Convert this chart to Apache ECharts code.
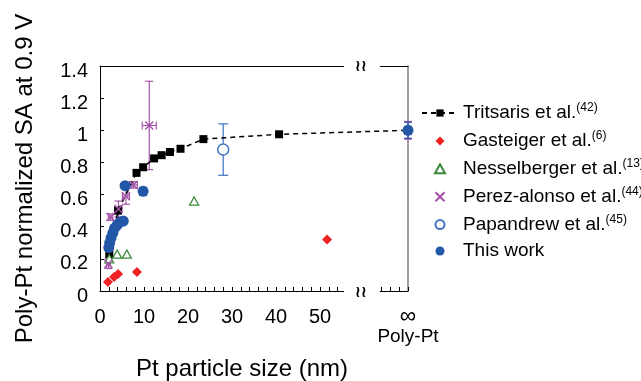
<!DOCTYPE html>
<html><head><meta charset="utf-8">
<script src="https://cdn.jsdelivr.net/npm/echarts@6/dist/echarts.min.js"></script>
<style>html,body{margin:0;padding:0;background:#fff}#c{width:641px;height:381px}</style>
</head><body><div id="c"></div>
<script>
// ---- data ----
const INF = 70; // axis position used for "∞ / Poly-Pt"
const yTicks = [0, 0.2, 0.4, 0.6, 0.8, 1, 1.2, 1.4];
const xTickLabels = {0:'0',10:'10',20:'20',30:'30',40:'40',50:'50',60:'',70:'{inf|∞}\n{pp|Poly-Pt}'};

const tritsarisX = [2.1, 4.1, 8.3, 9.8, 12.3, 14.0, 15.9, 18.3, 23.5, 40.7, 70];
const tritsarisY = [0.23, 0.50, 0.735, 0.77, 0.825, 0.845, 0.865, 0.885, 0.945, 0.975, 1.0];

const gasteigerX = [1.8, 3.2, 4.1, 8.4, 51.6];
const gasteigerY = [0.056, 0.087, 0.106, 0.118, 0.32];

const nesselbergerX = [2.1, 3.9, 6.1, 21.4];
const nesselbergerY = [0.20, 0.23, 0.23, 0.56];

const perezX    = [1.9, 2.4, 4.2, 5.9, 7.6, 11.2, 70];
const perezY    = [0.17, 0.46, 0.51, 0.59, 0.66, 1.03, 1.0];
const perezXErr = [0.4, 0.5, 0.8, 0.8, 0.9, 1.6, 0];
const perezYErr = [0.03, 0.02, 0.05, 0.05, 0.02, 0.275, 0.055];

const papandrewX = [28.0];
const papandrewY = [0.88];
const papandrewYErr = [0.16];

const thisWorkX = [2.0, 2.2, 2.5, 2.9, 3.3, 3.9, 4.6, 5.3, 5.7, 9.8, 70];
const thisWorkY = [0.27, 0.30, 0.33, 0.36, 0.39, 0.41, 0.43, 0.435, 0.655, 0.62, 1.0];
const thisWorkYErr = [0, 0, 0, 0, 0, 0, 0, 0, 0, 0.025, 0.05];

const seriesNames = ['Tritsaris et al.', 'Gasteiger et al.', 'Nesselberger et al.', 'Perez-alonso et al.', 'Papandrew et al.', 'This work'];
const seriesRefs  = ['(42)', '(6)', '(13)', '(44)', '(45)', ''];

// ---- build ----
const FONT = '"Liberation Sans", Arial, sans-serif';
const C = {tri:'#000000', gas:'#ee2222', nes:'#3a8a3a', per:'#a455a8', pap:'#3d72c4', tw:'#2357a8'};
const SYM_DIAMOND = 'path://M5,0L10,5L5,10L0,5Z';
const SYM_TRIANGLE = 'path://M5,0L10,9L0,9Z';
const SYM_X = 'path://M0,0L10,10M10,0L0,10';
const zip = (xs, ys) => xs.map((x, i) => [x, ys[i]]);
const zipErr = (xs, ys, xe, ye) => xs.map((x, i) => [x, ys[i], xe ? xe[i] : 0, ye ? ye[i] : 0]);

function errBars(color, capHalf) {
  return function (params, api) {
    const x = api.value(0), y = api.value(1), xe = api.value(2), ye = api.value(3);
    const st = {stroke: color, lineWidth: 1.2};
    const ch = [];
    if (ye > 0) {
      const t = api.coord([x, y + ye]), b = api.coord([x, y - ye]);
      ch.push({type:'line', shape:{x1:t[0], y1:t[1], x2:b[0], y2:b[1]}, style:st});
      ch.push({type:'line', shape:{x1:t[0]-capHalf, y1:t[1], x2:t[0]+capHalf, y2:t[1]}, style:st});
      ch.push({type:'line', shape:{x1:b[0]-capHalf, y1:b[1], x2:b[0]+capHalf, y2:b[1]}, style:st});
    }
    if (xe > 0) {
      const l = api.coord([x - xe, y]), r = api.coord([x + xe, y]);
      ch.push({type:'line', shape:{x1:l[0], y1:l[1], x2:r[0], y2:r[1]}, style:st});
      ch.push({type:'line', shape:{x1:l[0], y1:l[1]-capHalf, x2:l[0], y2:l[1]+capHalf}, style:st});
      ch.push({type:'line', shape:{x1:r[0], y1:r[1]-capHalf, x2:r[0], y2:r[1]+capHalf}, style:st});
    }
    return {type:'group', children: ch};
  };
}

const chart = echarts.init(document.getElementById('c'), null, {renderer:'canvas'});
const refMap = {}; seriesNames.forEach((n, i) => refMap[n] = seriesRefs[i]);

chart.setOption({
  animation: false,
  backgroundColor: '#fff',
  grid: {left: 100, right: 233, top: 66, bottom: 90, outerBoundsMode: 'none', containLabel: false},
  legend: {
    data: seriesNames,
    orient: 'vertical',
    left: 416, top: 97,
    itemWidth: 36, itemHeight: 9, itemGap: 7.4,
    symbolKeepAspect: true,
    textStyle: {
      fontFamily: FONT, fontSize: 19, color: '#000',
      rich: {
        n: {fontFamily: FONT, fontSize: 19, lineHeight: 22, color: '#000'},
        s: {fontFamily: FONT, fontSize: 12, lineHeight: 14, verticalAlign: 'top', color: '#000'}
      }
    },
    formatter: name => '{n|' + name + '}' + (refMap[name] ? '{s|' + refMap[name] + '}' : '')
  },
  xAxis: [{
    type: 'value', min: 0, max: INF, interval: 10,
    name: 'Pt particle size (nm)', nameLocation: 'middle', nameGap: 66,
    nameTextStyle: {fontFamily: FONT, fontSize: 24, color: '#000', padding: [0, 24, 0, 0]},
    axisLine: {show: true, lineStyle: {color: '#000', width: 1}},
    axisTick: {show: true, inside: true, length: 4, lineStyle: {color: '#000'}},
    minorTick: {show: true, splitNumber: 5, length: 4, lineStyle: {color: '#000'}},
    splitLine: {show: false},
    axisLabel: {
      fontFamily: FONT, fontSize: 20, lineHeight: 20, color: '#000', margin: 16,
      formatter: v => (xTickLabels[v] !== undefined ? xTickLabels[v] : ''),
      rich: {
        inf: {fontFamily: FONT, fontSize: 23, lineHeight: 20, color: '#000'},
        pp: {fontFamily: FONT, fontSize: 19, lineHeight: 19, color: '#000'}
      }
    }
  }, {
    type: 'value', min: 0, max: INF, position: 'top',
    axisLine: {show: true, onZero: false, lineStyle: {color: '#000', width: 1}},
    axisTick: {show: false}, axisLabel: {show: false}, splitLine: {show: false}
  }],
  yAxis: [{
    type: 'value', min: 0, max: 1.4, interval: 0.2,
    name: 'Poly-Pt normalized SA at 0.9 V', nameLocation: 'middle', nameGap: 63,
    nameTextStyle: {fontFamily: FONT, fontSize: 24, color: '#000'},
    axisLine: {show: true, lineStyle: {color: '#000', width: 1}},
    axisTick: {show: true, inside: true, length: 4, lineStyle: {color: '#000'}},
    splitLine: {show: false},
    axisLabel: {fontFamily: FONT, fontSize: 20, color: '#000', margin: 12,
      verticalAlign: 'top', lineHeight: 10,
      formatter: v => String(yTicks.find(t => Math.abs(t - v) < 1e-9) ?? v)}
  }, {
    type: 'value', min: 0, max: 1.4, position: 'right',
    axisLine: {show: true, onZero: false, lineStyle: {color: '#808080', width: 1.5}},
    axisTick: {show: false}, axisLabel: {show: false}, splitLine: {show: false}
  }],
  series: [
    {name: 'Tritsaris et al.', type: 'line', data: zip(tritsarisX, tritsarisY),
      symbol: 'rect', symbolSize: 8, z: 3,
      lineStyle: {color: C.tri, width: 1.5, type: [5, 4]}, itemStyle: {color: C.tri}},
    {name: 'Gasteiger et al.', type: 'scatter', data: zip(gasteigerX, gasteigerY),
      symbol: SYM_DIAMOND, symbolSize: 10, symbolKeepAspect: true, z: 3, itemStyle: {color: C.gas, opacity: 1}},
    {name: 'Nesselberger et al.', type: 'scatter', data: zip(nesselbergerX, nesselbergerY),
      symbol: SYM_TRIANGLE, symbolSize: 9, symbolKeepAspect: true, z: 3,
      itemStyle: {color: '#fff', borderColor: C.nes, borderWidth: 1.3, opacity: 1}},
    {name: 'Perez-alonso-err', type: 'custom', z: 2, renderItem: errBars(C.per, 4),
      data: zipErr(perezX, perezY, perezXErr, perezYErr), encode: {x: 0, y: 1}},
    {name: 'Perez-alonso et al.', type: 'scatter', data: zip(perezX, perezY),
      symbol: SYM_X, symbolSize: 8, symbolKeepAspect: true, z: 4,
      itemStyle: {color: 'none', borderColor: C.per, borderWidth: 1.4, opacity: 1}},
    {name: 'Papandrew-err', type: 'custom', z: 2, renderItem: errBars(C.pap, 5),
      data: zipErr(papandrewX, papandrewY, null, papandrewYErr), encode: {x: 0, y: 1}},
    {name: 'Papandrew et al.', type: 'scatter', data: zip(papandrewX, papandrewY),
      symbol: 'circle', symbolSize: 11, symbolKeepAspect: true, z: 4,
      itemStyle: {color: '#fff', borderColor: C.pap, borderWidth: 1.5, opacity: 1}},
    {name: 'This work-err', type: 'custom', z: 2, renderItem: errBars(C.tw, 4),
      data: zipErr(thisWorkX, thisWorkY, null, thisWorkYErr), encode: {x: 0, y: 1}},
    {name: 'This work', type: 'scatter', data: zip(thisWorkX, thisWorkY),
      symbol: 'circle', symbolSize: 11, symbolKeepAspect: true, z: 5, itemStyle: {color: C.tw, opacity: 1}}
  ]
});

// axis-break decoration (between the finite range and the "∞" position)
const b0 = chart.convertToPixel({xAxisIndex: 0}, 55.45);
const b1 = chart.convertToPixel({xAxisIndex: 0}, 63.6);
const yBot = chart.convertToPixel({yAxisIndex: 0}, 0);
const yTop = chart.convertToPixel({yAxisIndex: 0}, 1.4);
const mid = (b0 + b1) / 2 - 1;
const breakText = {text: '≀≀', fontFamily: '"DejaVu Sans"', fontSize: 16, fontWeight: 'bold', fill: '#000', align: 'center', verticalAlign: 'middle'};
chart.setOption({
  graphic: [
    {type: 'rect', z: 100, shape: {x: b0, y: yBot - 6, width: b1 - b0, height: 10}, style: {fill: '#fff'}},
    {type: 'rect', z: 100, shape: {x: b0, y: yTop - 5, width: b1 - b0, height: 10}, style: {fill: '#fff'}},
    {type: 'text', z: 101, x: mid, y: yBot + 2, style: breakText},
    {type: 'text', z: 101, x: mid, y: yTop + 1, style: breakText}
  ]
});
</script>
</body></html>
